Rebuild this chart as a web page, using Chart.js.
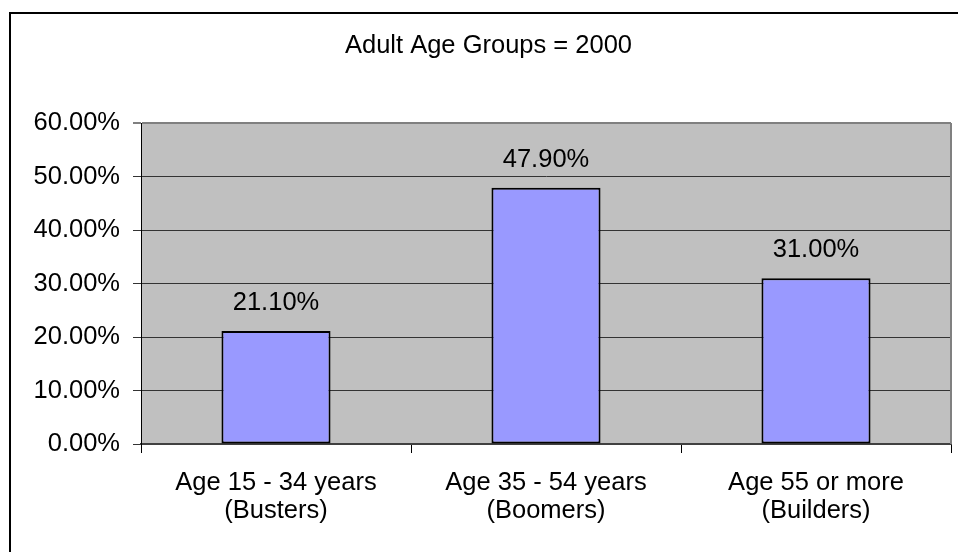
<!DOCTYPE html>
<html>
<head>
<meta charset="utf-8">
<script src="https://cdn.jsdelivr.net/npm/chart.js@4/dist/chart.umd.min.js"></script>
<style>
  html, body { margin: 0; padding: 0; background: #ffffff; }
  #wrap { width: 958px; height: 552px; }
</style>
</head>
<body>
<div id="wrap"><canvas id="chart" width="958" height="552"></canvas></div>
<script>
// Share of adults by age group, year 2000 (percent)
const chartTitle = 'Adult Age Groups = 2000';
const categories = [
  ['Age 15 - 34 years', '(Busters)'],
  ['Age 35 - 54 years', '(Boomers)'],
  ['Age 55 or more', '(Builders)']
];
const shares = [21.1, 47.9, 31.0];
const yTicks = [0, 10, 20, 30, 40, 50, 60];

const FONT = 'Liberation Sans, Arial, Helvetica, sans-serif';
const SIZE = 25.5;

// White page, outer frame, title, grey plot background and right border
const framePlugin = {
  id: 'frame',
  beforeDraw(chart) {
    const { ctx, chartArea: a, width, height } = chart;
    ctx.save();
    ctx.fillStyle = '#ffffff';
    ctx.fillRect(0, 0, width, height);
    ctx.strokeStyle = '#000000';
    ctx.lineWidth = 2;
    ctx.beginPath();
    ctx.moveTo(10, height + 10);
    ctx.lineTo(10, 13);
    ctx.lineTo(width + 10, 13);
    ctx.stroke();
    ctx.font = SIZE + 'px ' + FONT;
    ctx.fillStyle = '#000000';
    ctx.textAlign = 'center';
    ctx.textBaseline = 'alphabetic';
    ctx.fillText(chartTitle, 488.5, 52.5);
    ctx.fillStyle = '#c0c0c0';
    ctx.fillRect(a.left, a.top, a.right - a.left, a.bottom - a.top);
    ctx.restore();
  },
  afterDatasetsDraw(chart) {
    const { ctx, chartArea: a } = chart;
    ctx.save();
    ctx.strokeStyle = '#808080';
    ctx.lineWidth = 2;
    ctx.beginPath();
    ctx.moveTo(a.right, a.top);
    ctx.lineTo(a.right, a.bottom);
    ctx.stroke();
    ctx.restore();
  }
};

// Value labels above each bar
const valueLabels = {
  id: 'valueLabels',
  afterDatasetsDraw(chart) {
    const { ctx } = chart;
    const meta = chart.getDatasetMeta(0);
    ctx.save();
    ctx.font = SIZE + 'px ' + FONT;
    ctx.fillStyle = '#000000';
    ctx.textAlign = 'center';
    ctx.textBaseline = 'alphabetic';
    meta.data.forEach((bar, i) => {
      const v = chart.data.datasets[0].data[i];
      ctx.fillText(v.toFixed(2) + '%', bar.x, bar.y - 21);
    });
    ctx.restore();
  }
};

new Chart(document.getElementById('chart'), {
  type: 'bar',
  data: {
    labels: categories,
    datasets: [{
      data: shares,
      backgroundColor: '#9999ff',
      borderColor: '#000000',
      borderWidth: 2,
      borderSkipped: false,
      categoryPercentage: 1.0,
      barPercentage: 0.404
    }]
  },
  options: {
    responsive: false,
    animation: false,
    devicePixelRatio: 1,
    layout: { padding: { left: 0, right: 7, top: 123, bottom: 0 } },
    plugins: {
      legend: { display: false },
      tooltip: { enabled: false },
      title: { display: false }
    },
    scales: {
      x: {
        offset: true,
        border: { display: true, color: '#404040', width: 2 },
        grid: {
          offset: true,
          drawOnChartArea: false,
          drawTicks: true,
          tickLength: 9,
          color: '#000000'
        },
        ticks: {
          color: '#000000',
          padding: 16,
          maxRotation: 0,
          autoSkip: false,
          font: { family: FONT, size: SIZE, lineHeight: 1.11 }
        },
        afterFit(scale) { scale.height = 108; }
      },
      y: {
        min: 0,
        max: 60,
        border: { display: true, color: '#000000', width: 1 },
        grid: {
          color: ctx => (ctx.tick && ctx.tick.value === 60 ? '#808080' : '#333333'),
          lineWidth: ctx => (ctx.tick && ctx.tick.value === 60 ? 2 : 1),
          tickLength: 8
        },
        afterBuildTicks(scale) { scale.ticks = yTicks.map(v => ({ value: v })); },
        ticks: {
          color: '#000000',
          padding: 13,
          font: { family: FONT, size: SIZE },
          callback: v => Number(v).toFixed(2) + '%'
        },
        afterFit(scale) { scale.width = 141; }
      }
    }
  },
  plugins: [framePlugin, valueLabels]
});
</script>
</body>
</html>
